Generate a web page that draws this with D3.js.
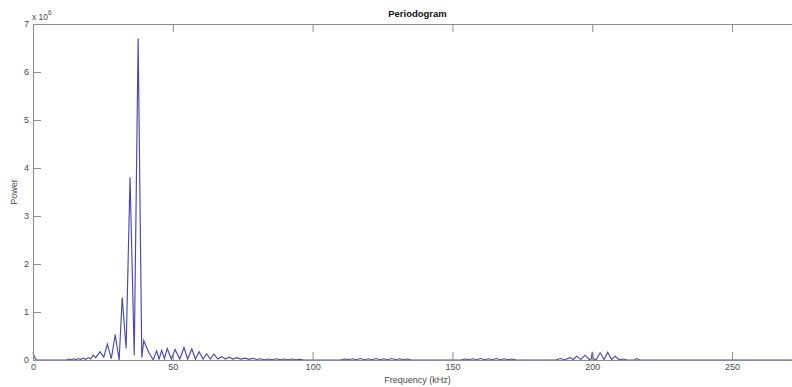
<!DOCTYPE html>
<html>
<head>
<meta charset="utf-8">
<script src="https://cdn.jsdelivr.net/npm/d3@7"></script>
<style>
  html, body { margin: 0; padding: 0; background: #fff; overflow: hidden; }
  svg { display: block; font-family: "Liberation Sans", Arial, sans-serif; }
</style>
</head>
<body>
<svg id="chart" width="792" height="387"></svg>
<script>
// Periodogram: power spectrum vs frequency (kHz)
const freqKHz = [
  0, 0.4, 1.0, 1.5, 12.0,
  12.8, 13.6, 14.5, 15.3, 16.2, 17.0, 18.0, 18.8, 19.8, 20.6, 21.5, 22.4,
  24.0, 25.3, 26.6, 28.0, 29.4, 30.8, 31.9, 33.3, 34.7, 36.2, 37.6, 38.9,
  39.6, 41.3, 43.0, 44.2, 45.1, 46.0, 47.0, 48.0, 49.5, 50.8, 52.5, 54.0,
  55.3, 56.8, 58.1, 59.4, 60.8, 62.1, 63.4, 64.7, 66.1, 67.5, 68.8, 70.2,
  71.5, 72.8, 74.3, 75.8, 77.2, 78.6, 80.0,
  81.4, 82.8, 84.2, 85.6, 87.0, 88.4, 89.8, 91.2, 92.6, 94.0, 95.4, 96.8,
  110.0, 111.5, 112.9, 114.3, 115.7, 117.1, 118.5, 119.9, 121.3, 122.7, 124.1,
  125.5, 126.9, 128.3, 129.7, 131.1, 132.5, 133.9, 135.3,
  153.0, 154.5, 155.9, 157.3, 158.7, 160.1, 161.5, 162.9, 164.3, 165.7, 167.1,
  168.5, 169.9, 171.3, 172.7,
  187.0, 188.5, 190.2, 192.0, 193.2, 194.4, 195.9, 197.4, 199.0, 199.6, 200.0,
  200.4, 201.4, 202.8, 204.2, 205.5, 206.9, 208.2, 209.6, 211.0, 212.5,
  215.0, 215.9, 216.8, 275.0
];

const power = [
  160000, 80000, 10000, 0, 0,
  20000, 5000, 25000, 5000, 30000, 10000, 40000, 10000, 50000, 20000, 100000, 50000,
  170000, 60000, 330000, 30000, 530000, 0, 1300000, 240000, 3800000, 100000, 6700000, 50000,
  400000, 170000, 0, 190000, 20000, 200000, 30000, 240000, 20000, 220000, 20000, 260000,
  20000, 230000, 20000, 170000, 20000, 130000, 20000, 120000, 20000, 70000, 20000, 60000,
  20000, 50000, 20000, 40000, 15000, 35000, 10000,
  25000, 5000, 20000, 5000, 25000, 5000, 20000, 5000, 20000, 5000, 15000, 0,
  0, 20000, 5000, 25000, 5000, 30000, 5000, 25000, 5000, 30000, 5000,
  25000, 5000, 30000, 5000, 25000, 5000, 20000, 0,
  0, 20000, 5000, 25000, 5000, 30000, 5000, 25000, 5000, 30000, 5000,
  25000, 5000, 20000, 0,
  0, 30000, 5000, 50000, 10000, 80000, 10000, 100000, 10000, 20000, 170000,
  20000, 10000, 150000, 10000, 160000, 10000, 80000, 5000, 20000, 0,
  0, 30000, 0, 0
];

const xTicks = [0, 50, 100, 150, 200, 250];
const yTicks = [0, 1, 2, 3, 4, 5, 6, 7].map(v => v * 1e6);

const svg = d3.select("#chart");
const margin = { left: 33, top: 24, bottom: 360, right: 802 };

const x = d3.scaleLinear().domain([0, 275]).range([margin.left, margin.right]);
const y = d3.scaleLinear().domain([0, 7e6]).range([margin.bottom, margin.top]);

const axisColor = "#8c8c8c";
const textColor = "#4a4a4a";

function styleAxis(g) {
  g.select(".domain").attr("stroke", axisColor);
  g.selectAll(".tick line").attr("stroke", axisColor);
  g.selectAll(".tick text").attr("fill", textColor).attr("font-size", 9)
    .attr("font-family", "Liberation Sans, Arial, sans-serif");
}

// data line
const line = d3.line().x((d, i) => x(freqKHz[i])).y(d => y(d));
svg.append("path")
  .datum(power)
  .attr("fill", "none")
  .attr("stroke", "#4848b4")
  .attr("stroke-width", 1.15)
  .attr("stroke-linejoin", "miter")
  .attr("d", line);

// axes (box with inward ticks)
svg.append("g").attr("transform", `translate(0,${margin.bottom})`)
  .call(d3.axisBottom(x).tickValues(xTicks).tickSize(-8).tickSizeOuter(0).tickPadding(4))
  .call(styleAxis);
svg.append("g").attr("transform", `translate(0,${margin.top})`)
  .call(d3.axisTop(x).tickValues(xTicks).tickSize(-8).tickSizeOuter(0).tickFormat(""))
  .call(styleAxis);
svg.append("g").attr("transform", `translate(${margin.left},0)`)
  .call(d3.axisLeft(y).tickValues(yTicks).tickSize(-8).tickSizeOuter(0).tickPadding(4)
    .tickFormat(d => d / 1e6))
  .call(styleAxis);
svg.append("g").attr("transform", `translate(${margin.right},0)`)
  .call(d3.axisRight(y).tickValues(yTicks).tickSize(-8).tickSizeOuter(0).tickFormat(""))
  .call(styleAxis);

// exponent label
const expo = svg.append("text")
  .attr("x", margin.left - 1).attr("y", 20)
  .attr("font-size", 8.5).attr("fill", textColor);
expo.append("tspan").text("x 10");
expo.append("tspan").attr("dy", -5).attr("font-size", 6.5).text("6");

// title
svg.append("text")
  .attr("x", (margin.left + margin.right) / 2).attr("y", 17)
  .attr("text-anchor", "middle").attr("font-size", 9.5).attr("font-weight", "bold")
  .attr("fill", "#111").text("Periodogram");

// axis labels
svg.append("text")
  .attr("x", (margin.left + margin.right) / 2).attr("y", 383)
  .attr("text-anchor", "middle").attr("font-size", 9).attr("fill", textColor)
  .text("Frequency (kHz)");
svg.append("text")
  .attr("transform", `translate(17,${(margin.top + margin.bottom) / 2}) rotate(-90)`)
  .attr("text-anchor", "middle").attr("font-size", 9).attr("fill", textColor)
  .text("Power");
</script>
</body>
</html>
